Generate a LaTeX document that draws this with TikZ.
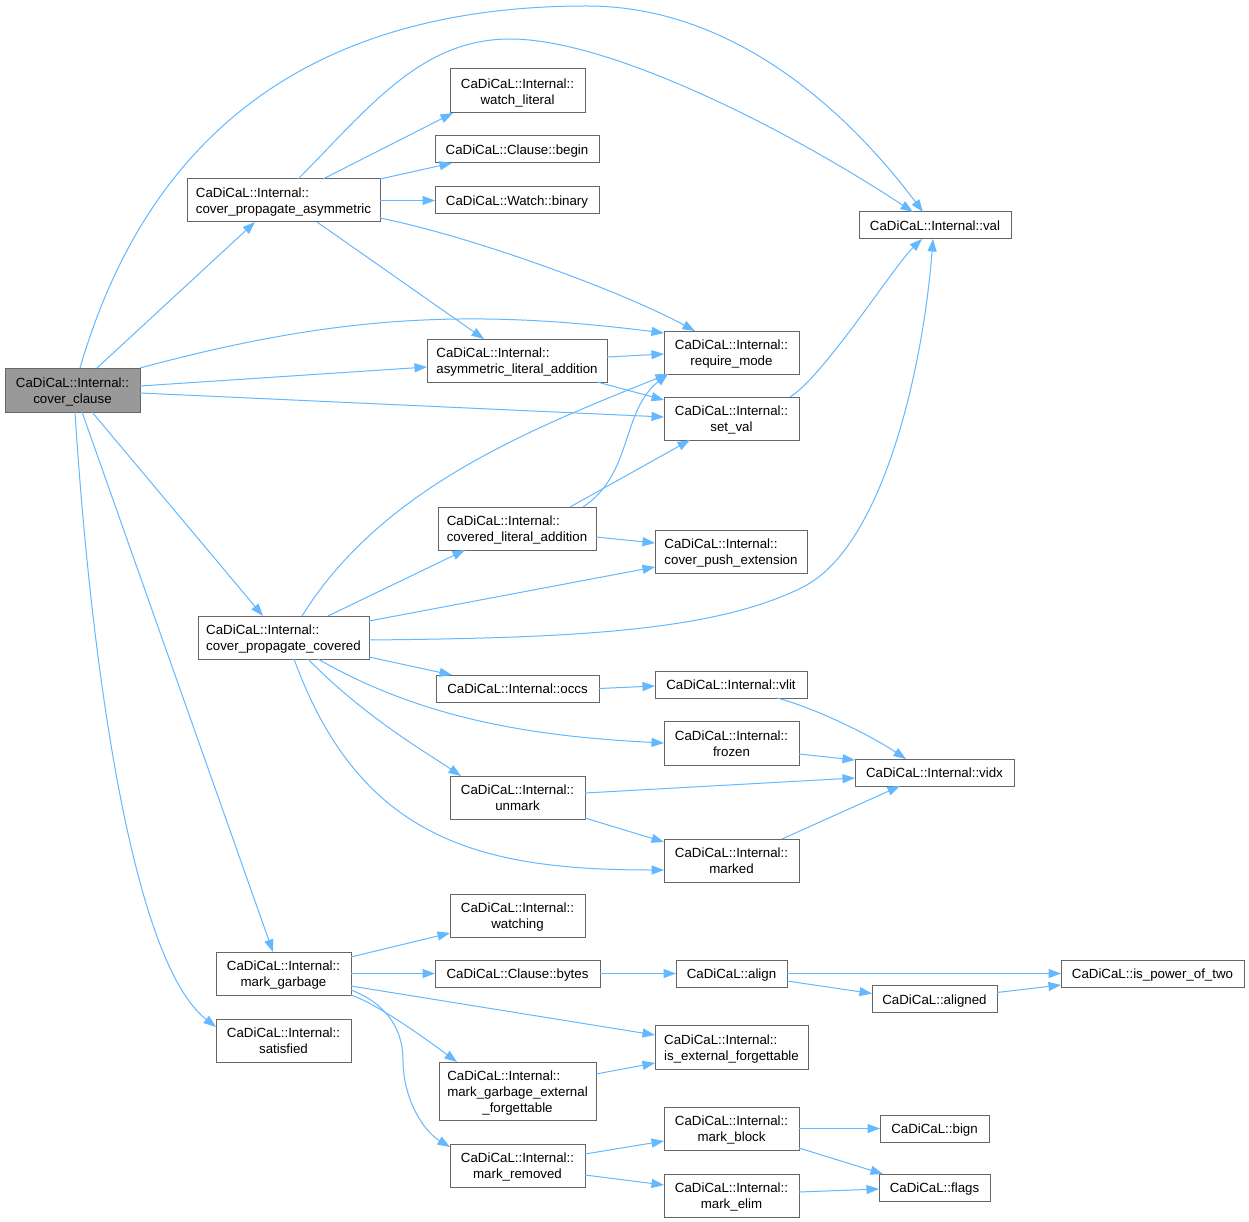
\documentclass[tikz,border=0pt]{standalone}
\usepackage{fontspec}
\setmainfont{Liberation Sans}
\usetikzlibrary{arrows.meta,calc}
\definecolor{edgec}{HTML}{63B8FF}
\definecolor{boxc}{HTML}{666666}
\definecolor{rootc}{HTML}{999999}
\newcommand\lowr[1]{\raisebox{-2pt}[\height][\depth]{#1}}
\newcommand\lbla[1]{\lowr{\begin{tabular}{@{}c@{}}#1\end{tabular}}}
\newcommand\lblb[2]{\lowr{\begin{tabular}{@{}l@{}}#1\\\multicolumn{1}{@{}c@{}}{#2}\end{tabular}}}
\newcommand\lblc[3]{\lowr{\begin{tabular}{@{}l@{}}#1\\#2\\\multicolumn{1}{@{}c@{}}{#3}\end{tabular}}}
\begin{document}
\begin{tikzpicture}[x=1pt,y=-1pt,
  fn/.style={draw=boxc,line width=1pt,fill=white,rectangle,inner sep=0pt,outer sep=0pt,
     font=\fontsize{13.3}{16}\selectfont,text=black},
  root/.style={fn,fill=rootc},
  sz/.style 2 args={minimum width=#1pt,minimum height=#2pt},
  edge/.style={draw=edgec,line width=1pt,-{Triangle[length=12.5pt,width=9pt]},fill=none},
  ]
\useasboundingbox[fill=white] (0,0) rectangle (1249,1222);

% nodes
\node[root,sz={135}{44}] (cc) at (72.5,390) {\lblb{CaDiCaL::Internal::}{cover\_clause}};
\node[fn,sz={193}{43}] (cpa) at (283.5,200.5) {\lblb{CaDiCaL::Internal::}{cover\_propagate\_asymmetric}};
\node[fn,sz={135}{44}] (wl) at (517.5,91) {\lblb{CaDiCaL::Internal::}{watch\_literal}};
\node[fn,sz={164}{27}] (cb) at (517,149.5) {\lbla{CaDiCaL::Clause::begin}};
\node[fn,sz={164}{27}] (wb) at (517,200.5) {\lbla{CaDiCaL::Watch::binary}};
\node[fn,sz={152}{27}] (val) at (935,225.5) {\lbla{CaDiCaL::Internal::val}};
\node[fn,sz={135}{43}] (rm) at (731.5,352.5) {\lblb{CaDiCaL::Internal::}{require\_mode}};
\node[fn,sz={180}{43}] (ala) at (517,360.5) {\lblb{CaDiCaL::Internal::}{asymmetric\_literal\_addition}};
\node[fn,sz={135}{43}] (sv) at (731.5,418.5) {\lblb{CaDiCaL::Internal::}{set\_val}};
\node[fn,sz={158}{43}] (cla) at (517,528.5) {\lblb{CaDiCaL::Internal::}{covered\_literal\_addition}};
\node[fn,sz={152}{43}] (cpe) at (731,551.5) {\lblb{CaDiCaL::Internal::}{cover\_push\_extension}};
\node[fn,sz={171}{43}] (cpc) at (283.5,637.5) {\lblb{CaDiCaL::Internal::}{cover\_propagate\_covered}};
\node[fn,sz={163}{27}] (occs) at (517.5,688.5) {\lbla{CaDiCaL::Internal::occs}};
\node[fn,sz={152}{27}] (vlit) at (731,684.5) {\lbla{CaDiCaL::Internal::vlit}};
\node[fn,sz={135}{44}] (frozen) at (731.5,743) {\lblb{CaDiCaL::Internal::}{frozen}};
\node[fn,sz={159}{27}] (vidx) at (934.5,772.5) {\lbla{CaDiCaL::Internal::vidx}};
\node[fn,sz={135}{43}] (unmark) at (517.5,797.5) {\lblb{CaDiCaL::Internal::}{unmark}};
\node[fn,sz={135}{43}] (marked) at (731.5,860.5) {\lblb{CaDiCaL::Internal::}{marked}};
\node[fn,sz={135}{43}] (watching) at (517.5,915.5) {\lblb{CaDiCaL::Internal::}{watching}};
\node[fn,sz={135}{43}] (mg) at (283.5,973.5) {\lblb{CaDiCaL::Internal::}{mark\_garbage}};
\node[fn,sz={165}{27}] (bytes) at (517.5,973.5) {\lbla{CaDiCaL::Clause::bytes}};
\node[fn,sz={111}{27}] (aln) at (731.5,973.5) {\lbla{CaDiCaL::align}};
\node[fn,sz={183}{27}] (ipt) at (1152.5,973.5) {\lbla{CaDiCaL::is\_power\_of\_two}};
\node[fn,sz={125}{27}] (aligned) at (934.5,999) {\lbla{CaDiCaL::aligned}};
\node[fn,sz={135}{43}] (sat) at (283.5,1040.5) {\lblb{CaDiCaL::Internal::}{satisfied}};
\node[fn,sz={153}{44}] (ief) at (731.5,1047) {\lblb{CaDiCaL::Internal::}{is\_external\_forgettable}};
\node[fn,sz={157}{58}] (mgef) at (517.5,1091) {\lblc{CaDiCaL::Internal::}{mark\_garbage\_external}{\_forgettable}};
\node[fn,sz={135}{43}] (mr) at (517.5,1165.5) {\lblb{CaDiCaL::Internal::}{mark\_removed}};
\node[fn,sz={135}{43}] (mb) at (731.5,1128.5) {\lblb{CaDiCaL::Internal::}{mark\_block}};
\node[fn,sz={109}{27}] (bign) at (934.5,1128.5) {\lbla{CaDiCaL::bign}};
\node[fn,sz={135}{43}] (me) at (731.5,1195.5) {\lblb{CaDiCaL::Internal::}{mark\_elim}};
\node[fn,sz={111}{27}] (flags) at (934.5,1187.5) {\lbla{CaDiCaL::flags}};

% edges from cover_clause
\draw[edge] ($(cc.north west)+(75,0)$) .. controls (147,138) and (307,6) .. (587,6)
   .. controls (737,6) and (851,116) .. ($(val.north west)+(64,0)$);
\draw[edge] ($(cc.north west)+(92,0)$) -- ($(cpa.south west)+(68,0)$);
\draw[edge] (cc.north east) .. controls (333,316) and (466,308) .. ($(rm.north west)+(0,2)$);
\draw[edge] ($(cc.north east)+(0,18)$) -- ($(ala.north west)+(0,28)$);
\draw[edge] ($(cc.north east)+(0,25)$) -- ($(sv.north west)+(0,20)$);
\draw[edge] ($(cc.south west)+(87,0)$) -- ($(cpc.north west)+(65,0)$);
\draw[edge] ($(cc.south west)+(77,0)$) -- ($(mg.north west)+(57,0)$);
\draw[edge] ($(cc.south west)+(70,0)$) .. controls (90,650) and (130,960) .. ($(sat.north west)+(0,8)$);

% edges from cover_propagate_asymmetric
\draw[edge] ($(cpa.north west)+(111,0)$) .. controls (368,109) and (420,39) .. (510,39)
   .. controls (610,39) and (788,129.5) .. ($(val.north west)+(54,0)$);
\draw[edge] ($(cpa.north west)+(136,0)$) -- ($(wl.south west)+(3,0)$);
\draw[edge] (cpa.north east) -- ($(cb.south west)+(17,0)$);
\draw[edge] (cpa.east) -- (wb.west);
\draw[edge] ($(cpa.north east)+(0,39)$) .. controls (478,238) and (625,293) .. ($(rm.north west)+(31,0)$);
\draw[edge] ($(cpa.south west)+(130,0)$) -- ($(ala.north west)+(57,0)$);

% asymmetric_literal_addition
\draw[edge] ($(ala.north east)+(0,18)$) -- ($(rm.north west)+(0,23)$);
\draw[edge] ($(ala.south west)+(170,0)$) -- ($(sv.north west)+(0,3)$);

% set_val
\draw[edge] ($(sv.north west)+(126,0)$) .. controls (824,376) and (893,267) .. ($(val.south west)+(63,0)$);

% covered_literal_addition
\draw[edge] ($(cla.north west)+(145,0)$) .. controls (633,474) and (621,411) .. ($(rm.south west)+(4,0)$);
\draw[edge] ($(cla.north west)+(132,0)$) -- ($(sv.south west)+(26,0)$);
\draw[edge] ($(cla.north east)+(0,30)$) -- ($(cpe.north west)+(0,13)$);

% cover_propagate_covered
\draw[edge] ($(cpc.north west)+(104,0)$) .. controls (381.5,488.5) and (528,430) .. ($(rm.south west)+(4,0)$);
\draw[edge] ($(cpc.north west)+(130,0)$) -- ($(cla.south west)+(27,0)$);
\draw[edge] ($(cpc.north east)+(0,5)$) -- ($(cpe.north west)+(0,37)$);
\draw[edge] ($(cpc.north east)+(0,24)$) .. controls (569,638) and (714,632) .. (803,587)
   .. controls (883,546.5) and (923,369) .. ($(val.south west)+(74,0)$);
\draw[edge] ($(cpc.north east)+(0,41)$) -- ($(occs.north west)+(16,0)$);
\draw[edge] ($(cpc.south west)+(120,0)$) .. controls (422,719) and (534,736.5) .. (frozen.west);
\draw[edge] ($(cpc.south west)+(110,0)$) .. controls (364,716.6) and (428,753.6) .. ($(unmark.north west)+(11,0)$);
\draw[edge] ($(cpc.south west)+(96,0)$) .. controls (360,840) and (480,870) .. ($(marked.north west)+(0,31)$);

% occs, vlit, frozen, unmark, marked
\draw[edge] (occs.east) -- ($(vlit.north west)+(0,15)$);
\draw[edge] ($(vlit.south west)+(122,0)$) .. controls (815,708) and (870,735) .. ($(vidx.north west)+(51,0)$);
\draw[edge] ($(frozen.north east)+(0,33)$) -- ($(vidx.north west)+(0,1)$);
\draw[edge] ($(unmark.north east)+(0,17)$) -- ($(vidx.north west)+(0,19)$);
\draw[edge] ($(unmark.north east)+(0,42)$) -- ($(marked.north west)+(0,3)$);
\draw[edge] ($(marked.north west)+(118,0)$) -- ($(vidx.south west)+(45,0)$);

% mark_garbage
\draw[edge] ($(mg.north east)+(0,5)$) -- ($(watching.south west)+(0,-4)$);
\draw[edge] (mg.east) -- (bytes.west);
\draw[edge] ($(mg.north east)+(0,34)$) -- ($(ief.north west)+(0,10)$);
\draw[edge] ($(mg.north east)+(0,43)$) .. controls (378,1004) and (430,1042) .. ($(mgef.north west)+(18,0)$);
\draw[edge] ($(mg.north east)+(0,38)$) .. controls (385,1003) and (403,1028) .. (403,1060)
   .. controls (403,1097) and (422,1130) .. ($(mr.north west)+(0,3)$);

% bytes, align, aligned
\draw[edge] (bytes.east) -- (aln.west);
\draw[edge] (aln.east) -- (ipt.west);
\draw[edge] ($(aln.north east)+(0,21)$) -- ($(aligned.north west)+(0,8)$);
\draw[edge] ($(aligned.north east)+(0,7)$) -- ($(ipt.north west)+(0,25)$);

% mark_garbage_external_forgettable, mark_removed, mark_block, mark_elim
\draw[edge] ($(mgef.north east)+(0,12)$) -- ($(ief.north west)+(0,38)$);
\draw[edge] ($(mr.north east)+(0,10)$) -- ($(mb.north west)+(0,34)$);
\draw[edge] ($(mr.north east)+(0,31)$) -- ($(me.north west)+(0,11)$);
\draw[edge] (mb.east) -- (bign.west);
\draw[edge] ($(mb.south east)+(0,-2)$) -- ($(flags.north west)+(4,0)$);
\draw[edge] ($(me.north east)+(0,18)$) -- ($(flags.north west)+(0,15)$);
\end{tikzpicture}
\end{document}
